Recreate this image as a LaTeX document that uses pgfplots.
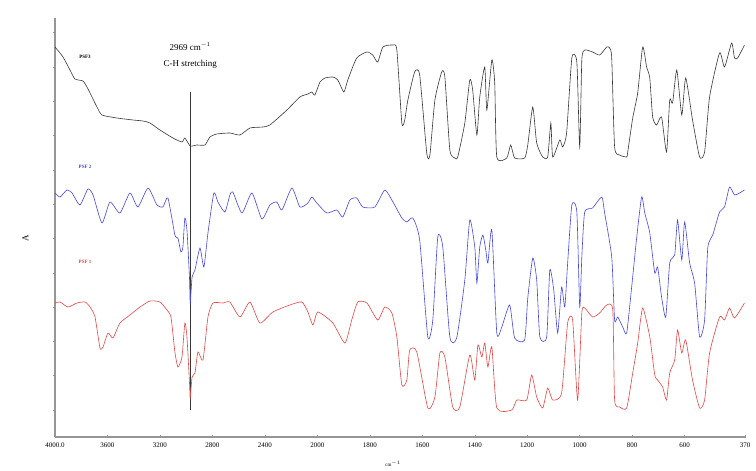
\documentclass[border=0pt]{standalone}
\usepackage{fontspec}
\setmainfont{Liberation Serif}
\usepackage{pgfplots}
\pgfplotsset{compat=1.18}
\definecolor{psfblack}{RGB}{55,55,55}
\definecolor{psfblue}{RGB}{70,70,225}
\definecolor{psfred}{RGB}{228,70,70}
\definecolor{axgray}{RGB}{150,150,150}
\begin{document}
\begin{tikzpicture}
\path (-55pt,-32pt) rectangle (701pt,437pt);
\begin{axis}[
  scale only axis,
  width=690pt, height=419pt,
  x coord trafo/.code={\begingroup\pgfkeys{/pgf/fpu=true,/pgf/fpu/output format=fixed}\pgfmathparse{(#1>=2000)*((4000-#1)/400)+(#1<2000)*(5+(2000-#1)/200)}\global\let\mytrafores\pgfmathresult\endgroup\let\pgfmathresult\mytrafores},
  xmin=4000, xmax=370,
  ymin=0, ymax=419,
  axis x line=bottom, axis y line=left,
  axis line style={axgray, line width=1.2pt, -},
  xtick={4000,3600,3200,2800,2400,2000,1800,1600,1400,1200,1000,800,600,370},
  xticklabels={4000.0,3600,3200,2800,2400,2000,1800,1600,1400,1200,1000,800,600,370},
  ytick={27,61.3,95.6,129.9,164.2,198.5,232.8,267.1,301.4,335.7,370,404.3},
  yticklabels={},
  tick align=center,
  major tick length=3pt,
  tick style={axgray, line width=0.5pt},
  x tick label style={font=\fontsize{7}{8}\selectfont, yshift=-1pt},
  /pgf/number format/assume math mode=true,
  xlabel={cm$^{-1}$},
  xlabel style={font=\fontsize{5}{6}\selectfont, at={(rel axis cs:0.49,0)}, anchor=north, yshift=-21pt},
  ylabel={A},
  ylabel style={font=\fontsize{9}{10}\selectfont, at={(rel axis cs:-0.043,0.475)}, anchor=center},
  clip=false,
]
% vertical marker at 2969
\addplot[psfblack, line width=0.7pt] coordinates {(2969,27) (2969,345)};
% PSF3 (black)
\addplot[psfblack, line width=0.6pt, smooth, tension=0.35] coordinates {
(4000,390) (3939,380) (3886,367) (3848,358) (3787,356) (3756,350) (3733,344)
(3680,330) (3642,322) (3528,319) (3406,317) (3330,316) (3276,314) (3200,307)
(3101,299) (3032,295) (3010,299) (2969,291) (2918,292) (2857,292) (2819,300)
(2766,303) (2667,304) (2590,302) (2514,309) (2415,310) (2362,312) (2232,327)
(2133,340) (2072,343) (2042,345) (2019,342) (1990,355) (1971,359) (1941,360)
(1922,357) (1899,345) (1884,357) (1850,379) (1811,385) (1789,382) (1770,375)
(1750,390) (1712,392) (1697,387) (1678,314) (1667,317) (1655,337) (1629,365)
(1610,362) (1583,284) (1571,282) (1552,337) (1526,365) (1514,360) (1495,287)
(1476,279) (1465,280) (1438,314) (1419,357) (1408,347) (1392,302) (1381,340)
(1362,370) (1354,327) (1335,377) (1324,354) (1316,280) (1278,279) (1263,292)
(1248,279) (1210,279) (1198,292) (1179,330) (1164,294) (1141,280) (1122,280)
(1110,314) (1103,280) (1076,297) (1065,290) (1050,304) (1030,379) (1011,375)
(1000,290) (992,377) (981,387) (951,385) (924,382) (897,390) (886,389)
(878,379) (867,290) (848,282) (821,280) (817,285) (798,319) (779,344)
(760,390) (745,370) (733,359) (722,320) (707,312) (688,320) (669,285)
(657,337) (646,334) (630,367) (611,322) (596,359) (570,317) (543,280)
(524,285) (505,340) (467,384) (448,370) (421,394) (410,379) (398,379) (372,392)
};
% PSF 2 (blue)
\addplot[psfblue, line width=0.6pt, smooth, tension=0.35] coordinates {
(4000,244) (3962,240) (3909,247) (3870,244) (3810,232) (3749,248) (3710,242)
(3642,214) (3581,235) (3505,224) (3429,244) (3368,230) (3291,249) (3223,232)
(3177,230) (3139,239) (3086,202) (3063,199) (3040,185) (3025,190) (3010,219)
(2994,207) (2975,160) (2969,134) (2955,160) (2933,167) (2895,189) (2865,170)
(2834,204) (2789,244) (2758,235) (2705,225) (2667,242) (2644,245) (2575,224)
(2499,244) (2423,218) (2362,232) (2309,235) (2270,227) (2194,249) (2133,230)
(2072,234) (2042,240) (2004,234) (1964,224) (1926,227) (1903,220) (1876,237)
(1850,239) (1827,230) (1781,230) (1743,247) (1712,235) (1678,219) (1659,215)
(1636,219) (1610,197) (1579,100) (1560,117) (1541,200) (1522,190) (1495,100)
(1469,99) (1438,157) (1419,217) (1400,190) (1392,154) (1381,190) (1369,202)
(1358,187) (1350,174) (1335,207) (1316,104) (1297,110) (1267,132) (1248,99)
(1210,97) (1198,139) (1179,179) (1164,157) (1152,100) (1126,100) (1114,167)
(1099,147) (1084,104) (1069,150) (1057,130) (1046,174) (1030,232) (1011,225)
(1000,130) (992,180) (981,225) (951,229) (916,240) (905,224) (878,180)
(867,117) (855,120) (836,110) (821,104) (802,150) (783,199) (764,240)
(752,224) (733,204) (714,164) (703,170) (688,140) (672,120) (657,174)
(638,182) (627,217) (611,177) (600,215) (581,174) (562,154) (543,100)
(524,117) (512,189) (493,202) (467,225) (448,230) (429,250) (410,242)
(391,244) (372,247)
};
% PSF 1 (red)
\addplot[psfred, line width=0.6pt, smooth, tension=0.35] coordinates {
(4000,134) (3962,135) (3901,130) (3832,134) (3771,135) (3733,130) (3695,120)
(3657,89) (3634,90) (3596,104) (3558,99) (3505,114) (3429,122) (3352,130)
(3276,136) (3200,135) (3147,127) (3116,120) (3086,85) (3063,70) (3032,80)
(3010,114) (2994,100) (2975,55) (2969,39) (2955,60) (2933,64) (2910,85)
(2872,77) (2834,120) (2796,134) (2720,134) (2667,135) (2590,120) (2514,135)
(2438,114) (2339,125) (2210,132) (2118,135) (2072,125) (2034,112) (1998,125)
(1941,114) (1895,94) (1869,117) (1846,135) (1811,134) (1770,117) (1743,130)
(1716,124) (1697,100) (1678,52) (1659,57) (1648,87) (1621,85) (1579,29)
(1552,40) (1533,84) (1514,80) (1484,30) (1457,30) (1419,82) (1400,57)
(1388,92) (1373,80) (1362,94) (1350,70) (1335,90) (1316,29) (1259,27)
(1240,37) (1202,37) (1183,62) (1164,40) (1141,29) (1122,49) (1103,37)
(1069,44) (1046,114) (1027,117) (1008,37) (992,124) (981,129) (951,120)
(924,124) (897,132) (874,127) (867,37) (848,30) (821,29) (798,64)
(779,94) (760,129) (733,100) (714,62) (703,57) (684,50) (669,37)
(657,64) (638,77) (627,107) (611,84) (596,97) (570,57) (543,29)
(524,37) (505,84) (467,120) (448,117) (429,129) (410,119) (372,134)
};
\node[font=\fontsize{5}{6}\selectfont\bfseries, text=black] at (rel axis cs:0.0435,0.907) {PSF3};
\node[font=\fontsize{5}{6}\selectfont\bfseries, text=psfblue] at (rel axis cs:0.0435,0.644) {PSF 2};
\node[font=\fontsize{5}{6}\selectfont\bfseries, text=psfred] at (rel axis cs:0.0435,0.418) {PSF 1};
\node[font=\fontsize{9}{10}\selectfont] at (rel axis cs:0.196,0.931) {2969 cm$^{-1}$};
\node[font=\fontsize{9}{10}\selectfont] at (rel axis cs:0.196,0.889) {C-H stretching};
\end{axis}
\end{tikzpicture}
\end{document}
